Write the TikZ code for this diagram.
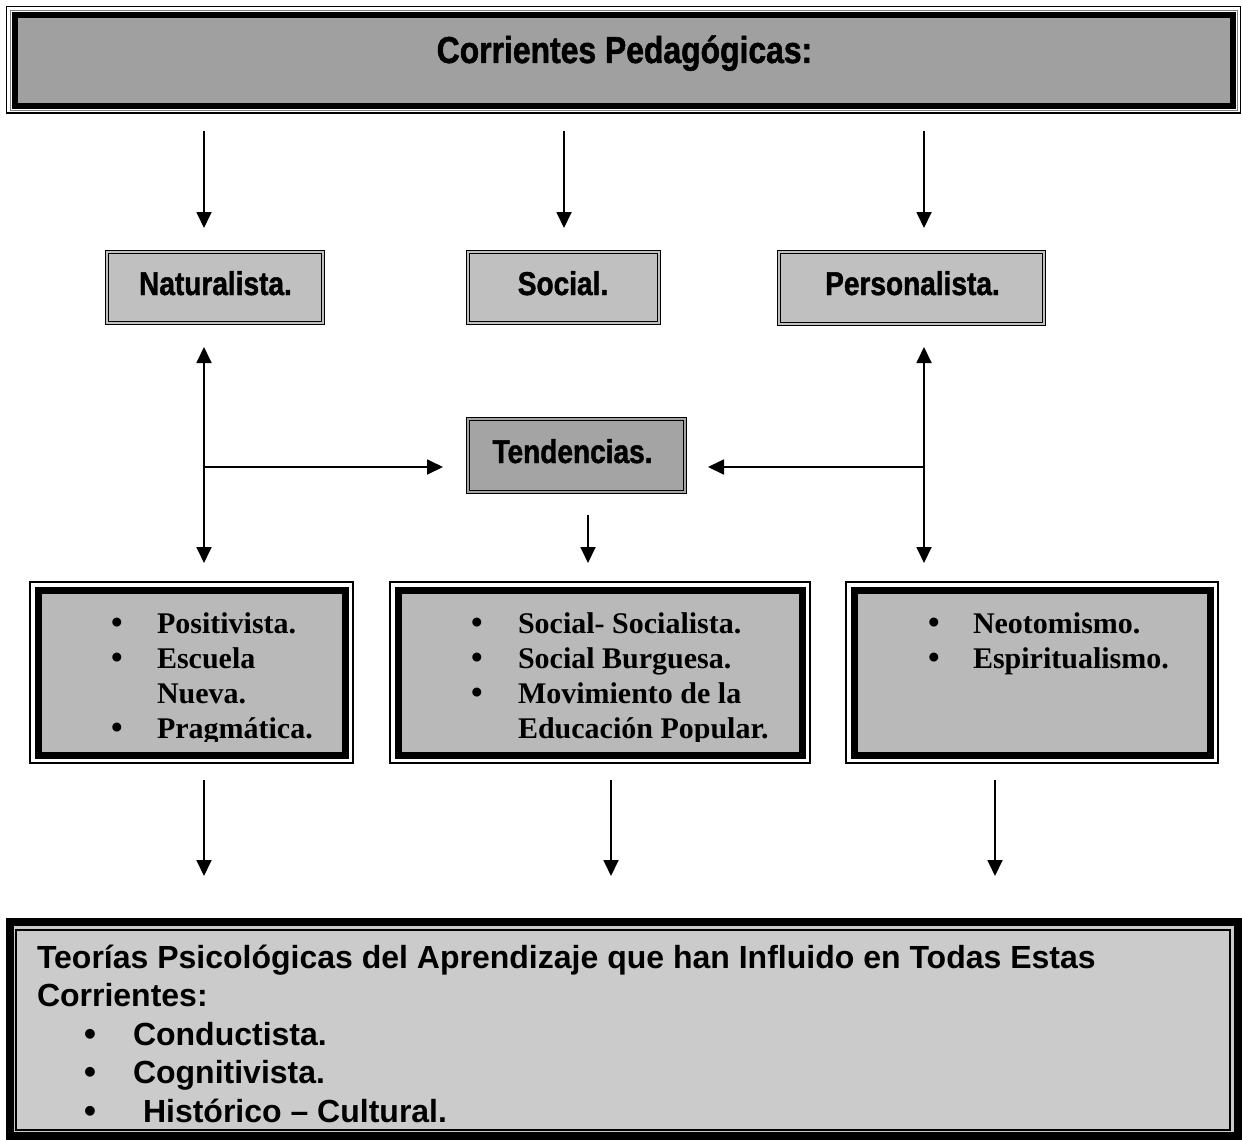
\documentclass[tikz,border=0pt]{standalone}
\usepackage{fontspec}
\setmainfont{Liberation Serif}
\newfontfamily\hdr{Liberation Sans Bold}[FakeStretch=0.85, FakeBold=1.3]
\newfontfamily\arl{Liberation Sans}
\usetikzlibrary{arrows.meta}
\definecolor{topgray}{HTML}{A0A0A0}
\definecolor{catgray}{HTML}{C0C0C0}
\definecolor{tendgray}{HTML}{A4A4A4}
\definecolor{listgray}{HTML}{B9B9B9}
\definecolor{botgray}{HTML}{CBCBCB}
\tikzset{
  topbox/.style={draw, line width=6pt, fill=topgray},
  catbox/.style={draw, line width=1pt, double=catgray, double distance=2pt, fill=catgray},
  tendbox/.style={draw, line width=1pt, double=tendgray, double distance=2pt, fill=tendgray},
  listbox/.style={draw, line width=7pt, fill=listgray, minimum height=165pt},
  botbox/.style={draw, line width=8pt, fill=botgray},
  thinframe/.style={draw, line width=1.2pt},
  hdrtxt/.style={anchor=base, font=\hdr\fontsize{33}{38}\selectfont},
  titletxt/.style={anchor=base, font=\hdr\fontsize{37.5}{42}\selectfont},
  listtxt/.style={anchor=base west, font=\bfseries\fontsize{30}{35}\selectfont},
  bul/.style={anchor=base, font=\bfseries\fontsize{33}{35}\selectfont},
  bottxt/.style={anchor=base west, font=\arl\bfseries\fontsize{32}{38}\selectfont},
  botbul/.style={anchor=base, font=\arl\bfseries\fontsize{34}{38}\selectfont},
  arr/.style={-{Triangle[length=16pt,width=15pt]}, line width=1.8pt},
  arrboth/.style={{Triangle[length=16pt,width=15pt]}-{Triangle[length=16pt,width=15pt]}, line width=1.8pt}
}
\begin{document}
\begin{tikzpicture}[x=1pt,y=-1pt, every node/.style={inner sep=0pt, outer sep=0pt}]
\useasboundingbox (0,0) rectangle (1242,1140);

% ---------- top box ----------
\node[topbox, minimum width=1218pt, minimum height=91pt] (top) at (624,60.5) {};
\draw[thinframe] ([shift={(-8.5,-8.5)}]top.north west) rectangle ([shift={(7.5,7)}]top.south east);
\draw[gray, line width=0.8pt] ([shift={(-5,-5)}]top.north west) rectangle ([shift={(4.5,4)}]top.south east);
\node[titletxt] (title) at (624.5,63) {Corrientes Pedagógicas:};

% ---------- category boxes ----------
\node[catbox, minimum width=216pt, minimum height=71pt] (nat) at (215,287.5) {};
\node[catbox, minimum width=191pt, minimum height=71pt] (soc) at (563.5,287.5) {};
\node[catbox, minimum width=265pt, minimum height=72pt] (per) at (911.5,288) {};
\node[hdrtxt] (nattxt) at (215.5,295) {Naturalista.};
\node[hdrtxt] (soctxt) at (563,295) {Social.};
\node[hdrtxt] (pertxt) at (912.5,295) {Personalista.};

% ---------- tendencias ----------
\node[tendbox, minimum width=217pt, minimum height=73pt] (tend) at (576.5,455.5) {};
\node[hdrtxt] (tendtxt) at (572.5,463) {Tendencias.};

% ---------- list boxes ----------
\node[listbox, minimum width=307pt] (lleft) at (191.5,672.5) {};
\node[listbox, minimum width=404pt] (lmid) at (600,672.5) {};
\node[listbox, minimum width=356pt] (lright) at (1032,672.5) {};
\foreach \b in {lleft,lmid,lright}{
  \draw[thinframe] ([shift={(-8,-8)}]\b.north west) rectangle ([shift={(8,8)}]\b.south east);
}
\begin{scope}
\clip (42,593) rectangle (342,741);
\node[bul] (bl1) at (117,633) {•};
\node[bul] (bl2) at (117,668) {•};
\node[bul] (bl3) at (117,738) {•};
\node[listtxt] (tl1) at (157,633) {Positivista.};
\node[listtxt] (tl2) at (157,668) {Escuela};
\node[listtxt] (tl3) at (157,703) {Nueva.};
\node[listtxt] (tl4) at (157,738) {Pragmática.};
\end{scope}
\begin{scope}
\clip (402,593) rectangle (798,741);
\node[bul] (bm1) at (477,633) {•};
\node[bul] (bm2) at (477,668) {•};
\node[bul] (bm3) at (477,703) {•};
\node[listtxt] (tm1) at (518,633) {Social- Socialista.};
\node[listtxt] (tm2) at (518,668) {Social Burguesa.};
\node[listtxt] (tm3) at (518,703) {Movimiento de la};
\node[listtxt] (tm4) at (518,738) {Educación Popular.};
\end{scope}
\node[bul] (br1) at (934,633) {•};
\node[bul] (br2) at (934,668) {•};
\node[listtxt] (tr1) at (973,633) {Neotomismo.};
\node[listtxt] (tr2) at (973,668) {Espiritualismo.};

% ---------- bottom box ----------
\node[botbox, minimum width=1227.5pt, minimum height=214pt] (bot) at (623.75,1029) {};
\draw[line width=1.2pt] ([shift={(6,8)}]bot.north west) rectangle ([shift={(-7.5,-6)}]bot.south east);
\node[bottxt] (bt1) at (37,968) {Teorías Psicológicas del Aprendizaje que han Influido en Todas Estas};
\node[bottxt] (bt2) at (37,1006.5) {Corrientes:};
\node[botbul] (bb1) at (90,1045) {•};
\node[botbul] (bb2) at (90,1083.5) {•};
\node[botbul] (bb3) at (90,1122) {•};
\node[bottxt] (bt3) at (133,1045) {Conductista.};
\node[bottxt] (bt4) at (133,1083.5) {Cognitivista.};
\node[bottxt] (bt5) at (143,1122) {Histórico – Cultural.};

% ---------- connector end points ----------
\coordinate (a1s) at (204,131); \coordinate (a1e) at (204,228);
\coordinate (a2s) at (564,131); \coordinate (a2e) at (564,228);
\coordinate (a3s) at (924,131); \coordinate (a3e) at (924,228);
\coordinate (lu) at (204,347); \coordinate (ld) at (204,563); \coordinate (lj) at (204,467);
\coordinate (ru) at (924,347); \coordinate (rd) at (924,563); \coordinate (rj) at (924,467);
\coordinate (tl) at (443,467); \coordinate (tr) at (708,467);
\coordinate (tds) at (588,515); \coordinate (tde) at (588,563);
\coordinate (b1s) at (204,780); \coordinate (b1e) at (204,876);
\coordinate (b2s) at (611,780); \coordinate (b2e) at (611,876);
\coordinate (b3s) at (995,780); \coordinate (b3e) at (995,876);

% ---------- connectors ----------
\draw[arr] (a1s) -- (a1e);
\draw[arr] (a2s) -- (a2e);
\draw[arr] (a3s) -- (a3e);
\draw[arrboth] (lu) -- (ld);
\draw[arrboth] (ru) -- (rd);
\draw[arr] (lj) -- (tl);
\draw[arr] (rj) -- (tr);
\draw[arr] (tds) -- (tde);
\draw[arr] (b1s) -- (b1e);
\draw[arr] (b2s) -- (b2e);
\draw[arr] (b3s) -- (b3e);
\end{tikzpicture}
\end{document}
